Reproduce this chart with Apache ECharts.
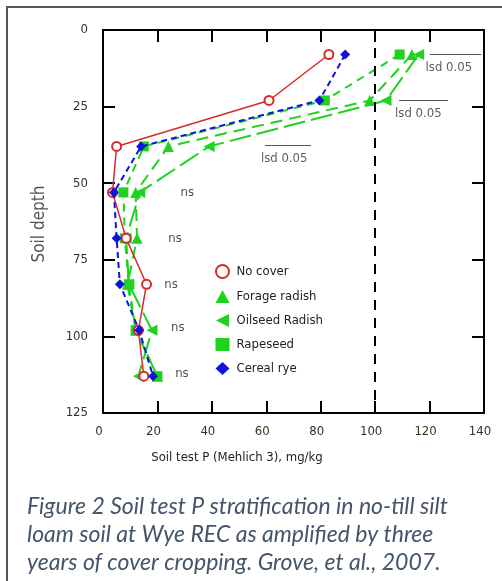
<!DOCTYPE html>
<html>
<head>
<meta charset="utf-8">
<script src="https://cdn.jsdelivr.net/npm/echarts@6/dist/echarts.min.js"></script>
<style>html,body{margin:0;padding:0;background:#fff;}#chart{width:502px;height:581px;}</style>
</head>
<body>
<div id="chart"></div>
<script>
// depths (cm) at which soil samples were taken
var depths = [8, 23, 38, 53, 68, 83, 98, 113];
// Soil test P (mg/kg) per treatment
var noCover      = [83, 61, 5, 3.5, 8.5, 16, 13, 15];
var forageRadish = [113.5, 98, 24, 12, 12.5, 9, 12, 20];
var oilseedRadish= [116, 104, 39, 13.5, 8.5, 9.5, 18, 13];
var rapeseed     = [109, 81.5, 15, 7.5, 8, 9.5, 12, 20];
var cerealRye    = [89, 79.5, 14, 4, 5, 6.2, 13.3, 18.4];
var seriesNames = ['No cover', 'Forage radish', 'Oilseed Radish', 'Rapeseed', 'Cereal rye'];
// annotations
var nsX = [31, 26.5, 25, 27.5, 29];
var nsDepth = [53, 68, 83, 97, 112];
var lsdStart = [120, 108.8, 59.5];
var lsdEnd = [139, 126.8, 76.4];
var lsdDepth = [7.8, 22.8, 37.5];
var xTicks = {min: 0, max: 140, interval: 20};
var yTicks = {min: 0, max: 125, interval: 25};
var captionLines = ['Figure 2 Soil test P stratification in no-till silt', 'loam soil at Wye REC as amplified by three', 'years of cover cropping. Grove, et al., 2007.'];

function pairs(vals) { return vals.map(function (v, i) { return [v, depths[i]]; }); }

var narrow = "'Liberation Sans Narrow', 'DejaVu Sans Condensed', 'Liberation Sans', Arial, sans-serif";
var leftTri = 'path://M0,5 L10,0 L10,10 Z';
var GREEN = '#1ed21e';

var chart = echarts.init(document.getElementById('chart'), null, {renderer: 'canvas'});

var axisCommon = {
  type: 'value',
  axisLine: {show: true, onZero: false, lineStyle: {color: '#000', width: 2}},
  axisTick: {show: true, inside: true, length: 12, lineStyle: {color: '#000', width: 2}},
  splitLine: {show: false}
};

var lsdLines = lsdStart.map(function (s, i) {
  return [{coord: [s, lsdDepth[i]]}, {coord: [lsdEnd[i], lsdDepth[i]]}];
});

var option = {
  animation: false,
  backgroundColor: '#fff',
  title: {
    text: captionLines.join('\n'),
    left: 22, top: 488,
    textStyle: {fontFamily: 'Lato, sans-serif', fontStyle: 'italic', fontWeight: 'normal', fontSize: 23, lineHeight: 28, color: '#44546a'}
  },
  graphic: [
    {type: 'rect', shape: {x: 7, y: 7, width: 600, height: 600}, style: {fill: 'none', stroke: '#555', lineWidth: 2}, silent: true},
    {type: 'text', x: 237, y: 458, style: {text: 'Soil test P (Mehlich 3), mg/kg', font: '13px ' + narrow, fill: '#222', textAlign: 'center', textVerticalAlign: 'middle'}},
    {type: 'text', x: 40, y: 224, rotation: Math.PI / 2, style: {text: 'Soil depth', font: '17px ' + narrow, fill: '#555', textAlign: 'center', textVerticalAlign: 'middle'}}
  ],
  legend: {
    orient: 'vertical', left: 210, top: 259, itemGap: 11, itemWidth: 14, itemHeight: 13,
    textStyle: {fontFamily: narrow, fontSize: 13, color: '#222', padding: [0, 0, 0, 2]},
    data: [
      {name: 'No cover', icon: 'emptyCircle'},
      {name: 'Forage radish', icon: 'triangle'},
      {name: 'Oilseed Radish', icon: leftTri},
      {name: 'Rapeseed', icon: 'rect'},
      {name: 'Cereal rye', icon: 'diamond'}
    ]
  },
  grid: {left: 103, top: 30, right: 18, bottom: 168, containLabel: false},
  xAxis: [
    Object.assign({}, axisCommon, {position: 'bottom', min: xTicks.min, max: xTicks.max, interval: xTicks.interval,
      axisLabel: {show: true, margin: 12, padding: [0, 8, 0, 0], fontFamily: narrow, fontSize: 13, color: '#3a3020'}}),
    Object.assign({}, axisCommon, {position: 'top', min: xTicks.min, max: xTicks.max, interval: xTicks.interval, axisLabel: {show: false}})
  ],
  yAxis: [
    Object.assign({}, axisCommon, {position: 'left', inverse: true, min: yTicks.min, max: yTicks.max, interval: yTicks.interval,
      axisLabel: {show: true, margin: 15, fontFamily: narrow, fontSize: 13, color: '#3a3020'}}),
    Object.assign({}, axisCommon, {position: 'right', inverse: true, min: yTicks.min, max: yTicks.max, interval: yTicks.interval, axisLabel: {show: false}})
  ],
  series: [
    {
      name: 'No cover', type: 'line', data: pairs(noCover),
      symbol: 'emptyCircle', symbolSize: 9, color: '#d62a2a',
      lineStyle: {color: '#d62a2a', width: 1.5}, itemStyle: {color: '#d62a2a', borderWidth: 1.5}, z: 3
    },
    {
      name: 'Forage radish', type: 'line', data: pairs(forageRadish),
      symbol: 'triangle', symbolSize: 11, color: GREEN,
      lineStyle: {color: GREEN, width: 2, type: [12, 7]}, itemStyle: {color: GREEN}, z: 2
    },
    {
      name: 'Oilseed Radish', type: 'line', data: pairs(oilseedRadish),
      symbol: leftTri, symbolSize: 11, color: GREEN,
      lineStyle: {color: GREEN, width: 2, type: [22, 6]}, itemStyle: {color: GREEN}, z: 2
    },
    {
      name: 'Rapeseed', type: 'line', data: pairs(rapeseed),
      symbol: 'rect', symbolSize: 10, color: GREEN,
      lineStyle: {color: GREEN, width: 2, type: [8, 6]}, itemStyle: {color: GREEN}, z: 2
    },
    {
      name: 'Cereal rye', type: 'line', data: pairs(cerealRye),
      symbol: 'diamond', symbolSize: 10, color: '#1212dd',
      lineStyle: {color: '#1212dd', width: 2, type: [6, 4]}, itemStyle: {color: '#1212dd'}, z: 4,
      markLine: {
        silent: true, symbol: 'none', label: {show: false},
        lineStyle: {color: '#000', width: 2, type: [10, 8]},
        data: [{xAxis: 100}]
      }
    },
    {
      name: 'ns', type: 'scatter', symbolSize: 0, silent: true,
      data: nsX.map(function (v, i) { return [v, nsDepth[i]]; }),
      label: {show: true, position: 'inside', formatter: 'ns', fontFamily: narrow, fontSize: 13, color: '#222'}
    },
    {
      name: 'lsd', type: 'scatter', symbolSize: 0, silent: true,
      data: lsdStart.map(function (v, i) { return [v, lsdDepth[i]]; }),
      label: {show: true, position: 'bottom', distance: 7, align: 'left', offset: [-4, 0], formatter: 'lsd 0.05', fontFamily: narrow, fontSize: 13, color: '#333'},
      markLine: {
        silent: true, symbol: 'none', label: {show: false},
        lineStyle: {color: '#555', width: 1, type: 'solid'},
        data: lsdLines
      }
    }
  ]
};
chart.setOption(option);
</script>
</body>
</html>
